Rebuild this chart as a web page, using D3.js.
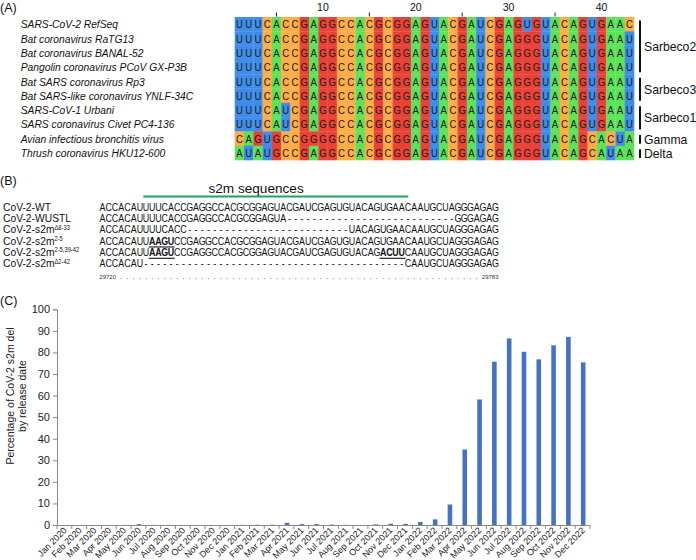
<!DOCTYPE html>
<html><head><meta charset="utf-8">
<script src="https://cdn.jsdelivr.net/npm/d3@7"></script>
<style>body{margin:0;background:#fff}svg{display:block;font-family:Arial,"Liberation Sans",sans-serif}</style>
</head><body><svg id="c" width="696" height="560"></svg>
<script>
// ---------- Panel A data ----------
const speciesNames = [
  "SARS-CoV-2 RefSeq", "Bat coronavirus RaTG13", "Bat coronavirus BANAL-52",
  "Pangolin coronavirus PCoV GX-P3B", "Bat SARS coronavirus Rp3",
  "Bat SARS-like coronavirus YNLF-34C", "SARS-CoV-1 Urbani",
  "SARS coronavirus Civet PC4-136", "Avian infectious bronchitis virus",
  "Thrush coronavirus HKU12-600"
];
const alignmentSeqs = [
  "UUUCACCGAGGCCACGCGGAGUACGAUCGAGUGUACAGUGAAC",
  "UUUCACCGAGGCCACGCGGAGUACGAUCGAGGGUACAGUGAAU",
  "UUUCACCGAGGCCACGCGGAGUACGAUCGAGGGUACAGUGAAU",
  "UUUCACCGAGGCCACGCGGAGUACGAUCGAGGGUACAGUGAAU",
  "UUUCACCGAGGCCACGCGGAGUACGAUCGAGGGUACAGUGAAU",
  "UUUCACCGAGGCCACGCGGAGUACGAUCGAGGGUACAGUGAAU",
  "UUUCAUCGAGGCCACGCGGAGUACGAUCGAGGGUACAGUGAAU",
  "UUUCAUCGAGGCCACGCGGAGUACGAUCGAGGGUACAGUGAAU",
  "CAGUGCCGGGGCCACGCGGAGUACGAUCGAGGGUACAGCACUA",
  "AUAUGCCGAGGCCACGCGGAGUACGAUCGAGGGUACAGCAUAA"
];
const cladeNames = ["Sarbeco2", "Sarbeco3", "Sarbeco1", "Gamma", "Delta"];
const cladeFirstRow = [0, 4, 6, 8, 9];
const cladeLastRow = [3, 5, 7, 8, 9];
const rulerLabels = [10, 20, 30, 40];
const rulerTicks = [5, 15, 25, 35];
const baseColors = {A: "#5CE35A", C: "#FFAD47", G: "#EA4236", U: "#3F8CEB"};

// ---------- Panel B data ----------
const constructBase = ["CoV-2-WT", "CoV-2-WUSTL", "CoV-2-s2m", "CoV-2-s2m", "CoV-2-s2m", "CoV-2-s2m"];
const constructSup = ["", "", "\u03948-33", "2-5", "2-5,39-42", "\u03942-42"];
const constructSeqs = [
  "ACCACAUUUUCACCGAGGCCACGCGGAGUACGAUCGAGUGUACAGUGAACAAUGCUAGGGAGAG",
  "ACCACAUUUUCACCGAGGCCACGCGGAGUA---------------------------GGGAGAG",
  "ACCACAUUUUCACC--------------------------UACAGUGAACAAUGCUAGGGAGAG",
  "ACCACAUUAAGUCCGAGGCCACGCGGAGUACGAUCGAGUGUACAGUGAACAAUGCUAGGGAGAG",
  "ACCACAUUAAGUCCGAGGCCACGCGGAGUACGAUCGAGUGUACAGACUUCAAUGCUAGGGAGAG",
  "ACCACAU------------------------------------------CAAUGCUAGGGAGAG"
];
const mutatedSpans = [[], [], [], [[8, 11]], [[8, 11], [45, 48]], []];
const genomeStart = "29720", genomeEnd = "29783";

// ---------- Panel C data ----------
const months = [
  "Jan 2020","Feb 2020","Mar 2020","Apr 2020","May 2020","Jun 2020",
  "Jul 2020","Aug 2020","Sep 2020","Oct 2020","Nov 2020","Dec 2020",
  "Jan 2021","Feb 2021","Mar 2021","Apr 2021","May 2021","Jun 2021",
  "Jul 2021","Aug 2021","Sep 2021","Oct 2021","Nov 2021","Dec 2021",
  "Jan 2022","Feb 2022","Mar 2022","Apr 2022","May 2022","Jun 2022",
  "Jul 2022","Aug 2022","Sep 2022","Oct 2022","Nov 2022","Dec 2022"
];
const pctDeleted = [
  0, 0, 0, 0, 0.05, 0.4,
  0.05, 0.05, 0, 0, 0, 0,
  0.05, 0.1, 0.1, 1.0, 0.4, 0.4,
  0.2, 0.05, 0, 0.3, 0.6, 0.5,
  1.4, 2.6, 9.5, 35.0, 58.2, 75.7,
  86.5, 80.3, 76.8, 83.3, 87.2, 75.4
];
const yTickValues = [0, 10, 20, 30, 40, 50, 60, 70, 80, 90, 100];

// ---------- drawing ----------
const svg = d3.select("#c");
function stretchedText(g, x, y, s, str) {
  return g.append("text").attr("transform", `translate(${x},${y}) scale(1,${s})`).text(str);
}

// Panel labels
svg.append("text").attr("x", 0).attr("y", 12).attr("font-size", 12.5).attr("fill", "#111").text("(A)");
svg.append("text").attr("x", 0).attr("y", 185).attr("font-size", 12.5).attr("fill", "#111").text("(B)");
svg.append("text").attr("x", 0).attr("y", 305).attr("font-size", 12.5).attr("fill", "#111").text("(C)");

// ===== Panel A =====
const nCols = alignmentSeqs[0].length;
const colX = d3.scaleBand().domain(d3.range(nCols)).range([234.7, 634]);
const rowY = d3.scaleBand().domain(d3.range(speciesNames.length)).range([17, 160]);
const gA = svg.append("g");

alignmentSeqs.forEach((seq, r) => {
  const cells = seq.split("").map((b, i) => ({b, i}));
  gA.selectAll(null).data(cells).join("rect")
    .attr("x", d => colX(d.i)).attr("y", rowY(r))
    .attr("width", colX.bandwidth() + 0.3).attr("height", rowY.bandwidth() + 0.3)
    .attr("fill", d => baseColors[d.b]);
  cells.forEach(d => {
    stretchedText(gA, colX(d.i) + colX.bandwidth() / 2, rowY(r) + rowY.bandwidth() / 2 + 4.2, 1.18, d.b)
      .attr("text-anchor", "middle").attr("font-size", 9.6).attr("fill", "#1a1a1a");
  });
  stretchedText(gA, 20.7, rowY(r) + rowY.bandwidth() / 2 + 4.2, 1.15, speciesNames[r])
    .attr("font-size", 10.3).attr("font-style", "italic").attr("fill", "#111");
});

// ruler
rulerLabels.forEach(n => {
  gA.append("text").attr("x", colX(n - 1) + colX.bandwidth() / 2).attr("y", 11)
    .attr("text-anchor", "middle").attr("font-size", 10.5).attr("fill", "#111").text(n);
});
rulerTicks.forEach(n => {
  const x = colX(n - 1) + colX.bandwidth() / 2;
  gA.append("line").attr("x1", x).attr("x2", x).attr("y1", 12.5).attr("y2", 16.5)
    .attr("stroke", "#222").attr("stroke-width", 1);
});

// clade brackets
cladeNames.forEach((name, k) => {
  const y1 = rowY(cladeFirstRow[k]) + 3.5;
  const y2 = rowY(cladeLastRow[k]) + rowY.bandwidth() - 2;
  gA.append("line").attr("x1", 640).attr("x2", 640).attr("y1", y1).attr("y2", y2)
    .attr("stroke", "#111").attr("stroke-width", 2);
  gA.append("text").attr("x", 644).attr("y", (y1 + y2) / 2 + 4.5)
    .attr("font-size", 12.2).attr("fill", "#111").text(name);
});

// ===== Panel B =====
const gB = svg.append("g");
const nB = constructSeqs[0].length;
const bx = d3.scaleBand().domain(d3.range(nB)).range([99.3, 498.5]);
const by = d3.scaleBand().domain(d3.range(constructSeqs.length)).range([201, 269]);

// s2m header
gB.append("line").attr("x1", 143.3).attr("x2", 408.3).attr("y1", 196.5).attr("y2", 196.5)
  .attr("stroke", "#1fa65a").attr("stroke-width", 2.2);
gB.append("text").attr("x", 208.5).attr("y", 192.5).attr("font-size", 13.6).attr("fill", "#111").text("s2m sequences");

constructSeqs.forEach((seq, r) => {
  const yb = by(r) + by.bandwidth() / 2 + 4;
  const lab = stretchedText(gB, 3, yb, 1.12, null).attr("font-size", 10.3).attr("fill", "#111");
  lab.append("tspan").text(constructBase[r]);
  if (constructSup[r]) lab.append("tspan").attr("font-size", 5.8).attr("dy", -3.2).text(constructSup[r]);
  const spans = mutatedSpans[r];
  const isMut = i => spans.some(s => i >= s[0] && i <= s[1]);
  seq.split("").forEach((ch, i) => {
    stretchedText(gB, bx(i) + bx.bandwidth() / 2, yb, 1.2, ch)
      .attr("text-anchor", "middle").attr("font-size", 8.9)
      .attr("font-weight", isMut(i) ? "bold" : null).attr("fill", "#111");
  });
  spans.forEach(s => {
    gB.append("line").attr("x1", bx(s[0]) - 0.5).attr("x2", bx(s[1]) + bx.bandwidth() + 0.5)
      .attr("y1", yb + 2.3).attr("y2", yb + 2.3).attr("stroke", "#111").attr("stroke-width", 1.1);
  });
});

// genome ruler
gB.append("text").attr("x", 99.3).attr("y", 279).attr("font-size", 6).attr("fill", "#333").text(genomeStart);
gB.append("text").attr("x", 498.5).attr("y", 279).attr("text-anchor", "end").attr("font-size", 6).attr("fill", "#333").text(genomeEnd);
gB.selectAll(null).data(d3.range(3, nB - 3)).join("rect")
  .attr("x", i => bx(i) + bx.bandwidth() / 2 - 0.5).attr("y", 278).attr("width", 1).attr("height", 1.2)
  .attr("fill", "#9a9a9a");

// ===== Panel C =====
const gC = svg.append("g");
const x = d3.scaleBand().domain(months).range([57, 590]);
const y = d3.scaleLinear().domain([0, 100]).range([525, 309.3]);
const axisCol = "#8a8a8a";
const barW = x.bandwidth() * 0.31;

gC.selectAll("rect.bar").data(months).join("rect").attr("class", "bar")
  .attr("x", m => x(m) + x.bandwidth() / 2 - barW / 2 + 0.6)
  .attr("width", barW)
  .attr("y", (m, i) => y(pctDeleted[i]))
  .attr("height", (m, i) => y(0) - y(pctDeleted[i]))
  .attr("fill", "#4472C4");

// y axis
const yAxis = gC.append("g").attr("transform", "translate(57,0)")
  .call(d3.axisLeft(y).tickValues(yTickValues).tickSize(4).tickPadding(3));
yAxis.select(".domain").attr("stroke", axisCol);
yAxis.selectAll(".tick line").attr("stroke", axisCol);
yAxis.selectAll(".tick text").attr("font-size", 11).attr("fill", "#222").attr("font-family", "Arial, Liberation Sans, sans-serif");

// x axis
const xAxis = gC.append("g").attr("transform", "translate(0,525)")
  .call(d3.axisBottom(x).tickSize(0).tickFormat(""));
xAxis.select(".domain").attr("stroke", axisCol);
const bounds = months.map(m => x(m)).concat([x.range()[1]]);
gC.selectAll("line.xt").data(bounds).join("line").attr("class", "xt")
  .attr("x1", d => d).attr("x2", d => d).attr("y1", 525).attr("y2", 529)
  .attr("stroke", axisCol);
gC.selectAll("text.xl").data(months).join("text").attr("class", "xl")
  .attr("transform", m => `translate(${x(m) + x.bandwidth() / 2 + 3},${531}) rotate(-45)`)
  .attr("text-anchor", "end").attr("font-size", 9).attr("fill", "#222").text(m => m);

// y label
const yl = gC.append("text").attr("transform", "translate(0,396) rotate(-90)")
  .attr("text-anchor", "middle").attr("font-size", 10.5).attr("fill", "#222");
yl.append("tspan").attr("x", 0).attr("y", 13.5).text("Percentage of CoV-2 s2m del");
yl.append("tspan").attr("x", 0).attr("y", 25.5).text("by release date");
</script></body></html>
